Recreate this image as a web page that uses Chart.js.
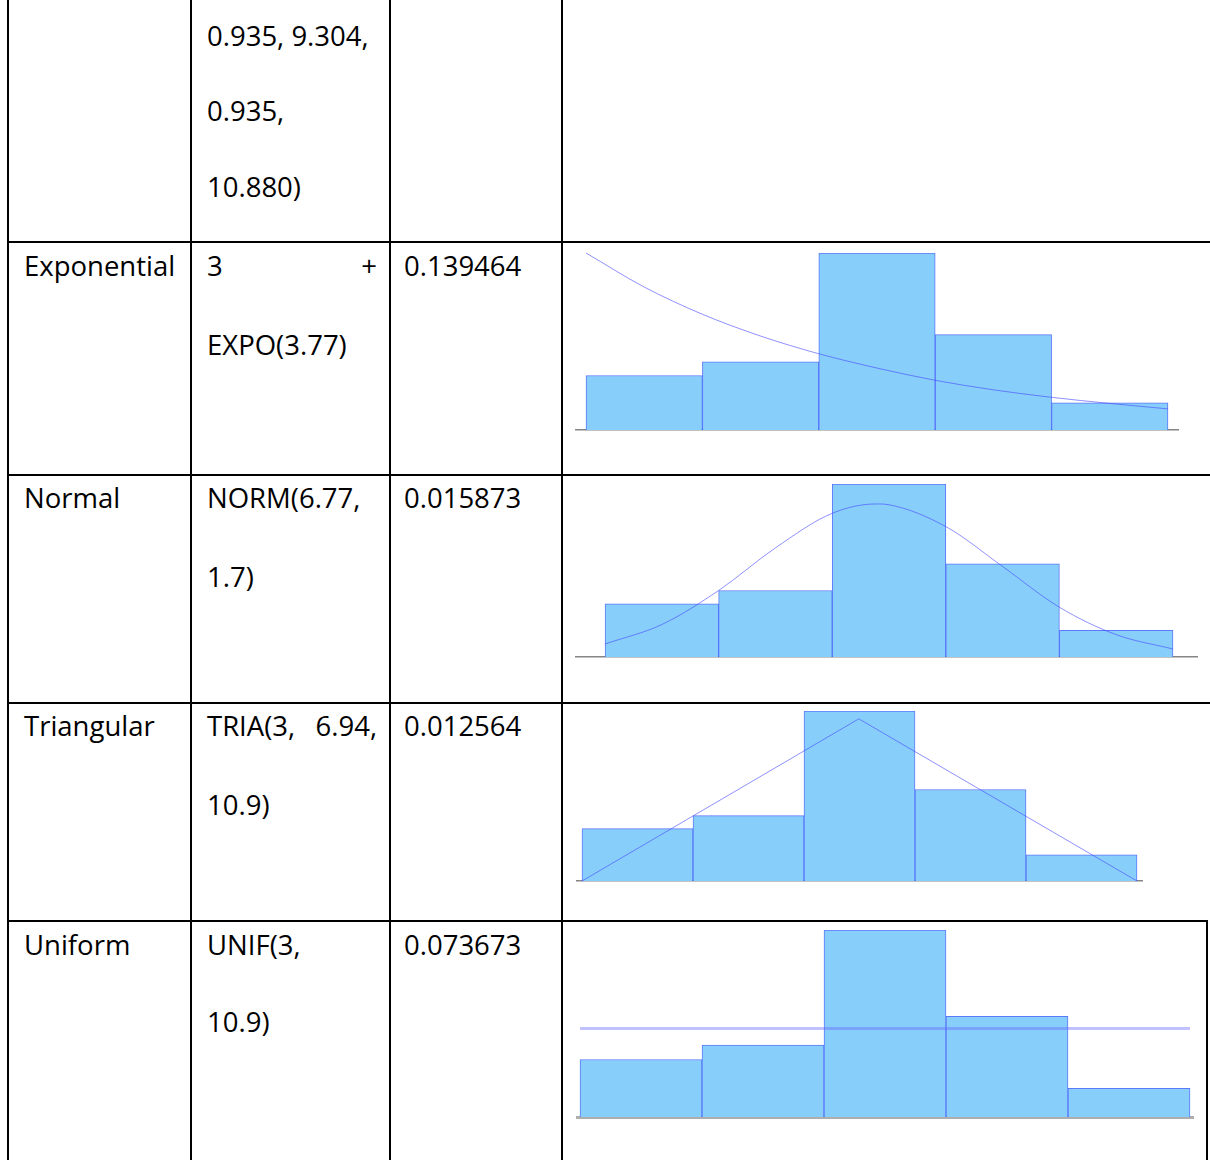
<!DOCTYPE html>
<html>
<head>
<meta charset="utf-8">
<title>Distribution fits</title>
<script src="https://cdn.jsdelivr.net/npm/chart.js@4.4.1/dist/chart.umd.min.js"></script>
<style>
  html, body { margin: 0; padding: 0; background: #fff; }
  #page {
    position: relative; width: 1210px; height: 1160px; overflow: hidden; background: #fff;
    font-family: "Open Sans", Lato, sans-serif; font-size: 27.5px; color: #000;
  }
  .rule { position: absolute; background: #000; }
  .txt { position: absolute; white-space: pre; line-height: normal; }
  .txt.just { display: flex; justify-content: space-between; }
  .mark { display: inline-block; width: 0; height: 0; vertical-align: baseline; }
  canvas { position: absolute; }
</style>
</head>
<body>
<div id="page"></div>
<script>
// ---- table text ----
const carryOverExpr = ['0.935, 9.304,', '0.935,', '10.880)'];
const distNames = ['Exponential', 'Normal', 'Triangular', 'Uniform'];
const distExpr = [['3 +', 'EXPO(3.77)'], ['NORM(6.77,', '1.7)'], ['TRIA(3, 6.94,', '10.9)'], ['UNIF(3,', '10.9)']];
const sqErrors = ['0.139464', '0.015873', '0.012564', '0.073673'];

// ---- histogram of the observed data (same bins for every fit) ----
const binMids = [3.79, 5.37, 6.95, 8.53, 10.11];
const binCounts = [4, 5, 13, 7, 2];

// ---- fitted densities, scaled to counts ----
const expoX = [3, 3.79, 4.58, 5.37, 6.16, 6.95, 7.74, 8.53, 9.32, 10.11, 10.9];
const expoY = [13.0, 10.5, 8.5, 6.9, 5.6, 4.55, 3.65, 2.95, 2.4, 1.95, 1.55];
const normX = [3, 3.79, 4.58, 5.37, 6.16, 6.77, 6.95, 7.74, 8.53, 9.32, 10.11, 10.9];
const normY = [0.98, 2.44, 5.0, 8.2, 10.8, 11.5, 11.44, 9.8, 6.8, 3.74, 1.68, 0.6];
const triaX = [3, 6.94, 10.9];
const triaY = [0, 12.4, 0];
const unifX = [3, 10.9];
const unifY = [6.15, 6.15];

const page = document.getElementById('page');

function rule(x, y, w, h) {
  const d = document.createElement('div');
  d.className = 'rule';
  Object.assign(d.style, { left: x + 'px', top: y + 'px', width: w + 'px', height: h + 'px' });
  page.appendChild(d);
}

// place one line of text so that its baseline sits at y
function text(str, x, baseline, justifyTo) {
  const d = document.createElement('div');
  d.className = 'txt';
  d.style.left = x + 'px';
  d.style.top = '0px';
  const mark = document.createElement('span');
  mark.className = 'mark';
  if (justifyTo) {
    d.classList.add('just');
    d.style.width = (justifyTo - x) + 'px';
    str.split(' ').forEach((w, i) => {
      const s = document.createElement('span');
      s.textContent = w;
      if (i === 0) s.appendChild(mark);
      d.appendChild(s);
    });
  } else {
    d.textContent = str;
    d.appendChild(mark);
  }
  page.appendChild(d);
  const off = mark.getBoundingClientRect().top - page.getBoundingClientRect().top;
  d.style.top = (baseline - off) + 'px';
}

// ---- grid lines ----
[8, 191, 390, 562].forEach(x => rule(x - 1, 0, 2, 1160));
[242, 475, 703].forEach(y => rule(7, y - 1, 1203, 2));
rule(7, 920, 1201, 2);
rule(1206, 920, 2, 240);

// ---- cell text ----
const colName = 24, colExpr = 207, colErr = 404;
[46, 121, 197].forEach((b, i) => text(carryOverExpr[i], colExpr, b));
const rowBase = [[276, 355], [508, 587], [736, 815], [955, 1032]];
distNames.forEach((name, r) => {
  const [b1, b2] = rowBase[r];
  const first = distExpr[r][0];
  text(name, colName, b1);
  text(first, colExpr, b1, first.includes(' ') ? 377 : null);
  text(distExpr[r][1], colExpr, b2);
  text(sqErrors[r], colErr, b1);
});

// ---- histogram cells ----
const P = 8;
const cells = [
  { x: expoX, y: expoY, left: 576, right: 1178, top: 253, bottom: 430, xMin: 2.864, xMax: 11.036,
    line: 'rgba(70,70,255,0.6)', lineW: 1, smooth: true, axis: 'rgba(120,120,120,0.9)', axisW: 1.5 },
  { x: normX, y: normY, left: 576, right: 1197, top: 484, bottom: 657, xMin: 2.596, xMax: 11.234,
    line: 'rgba(70,70,255,0.6)', lineW: 1, smooth: true, axis: 'rgba(120,120,120,0.9)', axisW: 1.5 },
  { x: triaX, y: triaY, left: 577, right: 1142, top: 711, bottom: 881, xMin: 2.929, xMax: 10.971,
    line: 'rgba(70,70,255,0.6)', lineW: 1, smooth: false, axis: 'rgba(120,120,120,0.9)', axisW: 1.5 },
  { x: unifX, y: unifY, left: 577, right: 1193, top: 930, bottom: 1117, xMin: 2.961, xMax: 10.939,
    line: 'rgba(100,100,255,0.4)', lineW: 3, smooth: false, axis: 'rgba(160,160,160,0.85)', axisW: 3 }
];

cells.forEach(c => {
  const cv = document.createElement('canvas');
  const w = c.right - c.left + 2 * P, h = c.bottom - c.top + 2 * P;
  cv.width = w; cv.height = h;
  Object.assign(cv.style, { left: (c.left - P) + 'px', top: (c.top - P) + 'px', width: w + 'px', height: h + 'px' });
  page.appendChild(cv);
  new Chart(cv, {
    type: 'bar',
    data: {
      datasets: [
        {
          type: 'line',
          data: c.x.map((x, i) => ({ x, y: c.y[i] })),
          borderColor: c.line, borderWidth: c.lineW,
          pointRadius: 0, fill: false, tension: 0,
          cubicInterpolationMode: c.smooth ? 'monotone' : 'default',
          clip: false
        },
        {
          type: 'bar',
          data: binMids.map((x, i) => ({ x, y: binCounts[i] })),
          backgroundColor: '#87cefa',
          borderColor: 'rgba(64,96,250,0.85)',
          borderWidth: 1,
          barThickness: 'flex', categoryPercentage: 1, barPercentage: 1
        }
      ]
    },
    options: {
      responsive: false, animation: false,
      layout: { padding: P },
      plugins: { legend: { display: false }, tooltip: { enabled: false } },
      scales: {
        x: {
          type: 'linear', min: c.xMin, max: c.xMax, offset: false,
          grid: { display: false, drawTicks: false, offset: false },
          ticks: { display: false },
          border: { display: true, color: c.axis, width: c.axisW }
        },
        y: { display: false, min: 0, max: 13 }
      }
    }
  });
});
</script>
</body>
</html>
